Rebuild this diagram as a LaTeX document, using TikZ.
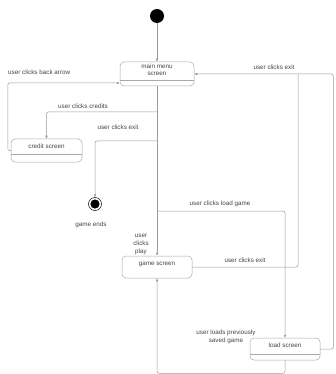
\documentclass[tikz,border=0pt]{standalone}
\usepackage{fontspec}
\setmainfont{Liberation Sans}
\usepackage{xcolor}
\usetikzlibrary{arrows.meta,positioning,calc}

\definecolor{linegray}{HTML}{9A9A9A}
\definecolor{boxgray}{HTML}{A8A8A8}
\definecolor{txtgray}{HTML}{444444}

\begin{document}
\begin{tikzpicture}[
    x=1pt, y=-1pt,
    font=\fontsize{6.3}{8}\selectfont, text=txtgray,
    state/.style={draw=boxgray, rounded corners=4pt, align=center,
      inner sep=0pt, line width=0.5pt},
    arr/.style={-{Latex[length=3pt,width=2.6pt]}, draw=linegray, line width=0.5pt,
      rounded corners=2pt},
    plain/.style={draw=linegray, line width=0.5pt, rounded corners=2pt},
    lbl/.style={align=center, inner sep=1pt},
  ]
    \useasboundingbox (0,0) rectangle (335,374);

    % --- states ---
    \node[circle, fill=black, minimum size=14pt, inner sep=0pt] (init) at (157,16) {};
    \node[state, minimum width=74pt, minimum height=24pt] (menu) at (157,74) {};
    \node[font=\fontsize{6.3}{7.5}\selectfont, align=center] (menu-txt) at (157,69.5)
      {main menu\\screen};
    \draw[boxgray, line width=0.4pt] ($(menu.south west)+(0,-6)$) -- ($(menu.south east)+(0,-6)$);

    \node[state, minimum width=71pt, minimum height=23pt] (credit) at (46.5,150.5) {};
    \node (credit-txt) at (46.5,146.5) {credit screen};
    \draw[boxgray, line width=0.4pt] ($(credit.south west)+(0,-8)$) -- ($(credit.south east)+(0,-8)$);

    \node[circle, draw=black, line width=0.5pt, minimum size=13pt, inner sep=0pt] (final) at (95,204) {};
    \fill[black] (final.center) circle (4.6pt);
    \node (final-lbl) at (91,225) {game ends};

    \node[state, minimum width=70pt, minimum height=22pt] (game) at (157,267) {};
    \node (game-txt) at (157,264) {game screen};

    \node[state, minimum width=70pt, minimum height=22pt] (load) at (285,349) {};
    \node (load-txt) at (285,345) {load screen};
    \draw[boxgray, line width=0.4pt] ($(load.south west)+(0,-6)$) -- ($(load.south east)+(0,-6)$);

    % --- junctions on the main line ---
    \coordinate (j-credits) at (157,112);
    \coordinate (j-exit) at (157,141);
    \coordinate (j-load) at (157,211);
    \coordinate (j-top) at (298,74);

    % --- transitions ---
    \draw[arr] (init) -- (menu);
    \draw[arr] (menu.south) -- (game.north);
    \draw[arr] (credit.west) -- ++(-3,0) |- ($(menu.west)+(0,9)$);
    \draw[arr] (j-credits) -| (credit.north);
    \draw[arr] (j-exit) -| (final.north);
    \draw[arr] (j-load) -| (load.north);
    \draw[plain] (game.east) -| (j-top);
    \draw[arr] (load.east) -- ++(13,0) |- (menu.east);
    \draw[arr] (load.south) -- ++(0,13) -| (game.south);

    % --- labels ---
    \node[lbl, anchor=west] (l-back) at (7,72) {user clicks back arrow};
    \node[lbl] (l-credits) at (83,106) {user clicks credits};
    \node[lbl] (l-exit1) at (118,127) {user clicks exit};
    \node[lbl] (l-loadgame) at (220,204) {user clicks load game};
    \node[lbl] (l-play) at (141,244) {user\\clicks\\play};
    \node[lbl] (l-exit2) at (245,260) {user clicks exit};
    \node[lbl] (l-exit3) at (274,67.5) {user clicks exit};
    \node[lbl] (l-saved) at (226,337) {user loads previously\\saved game};
\end{tikzpicture}
\end{document}
